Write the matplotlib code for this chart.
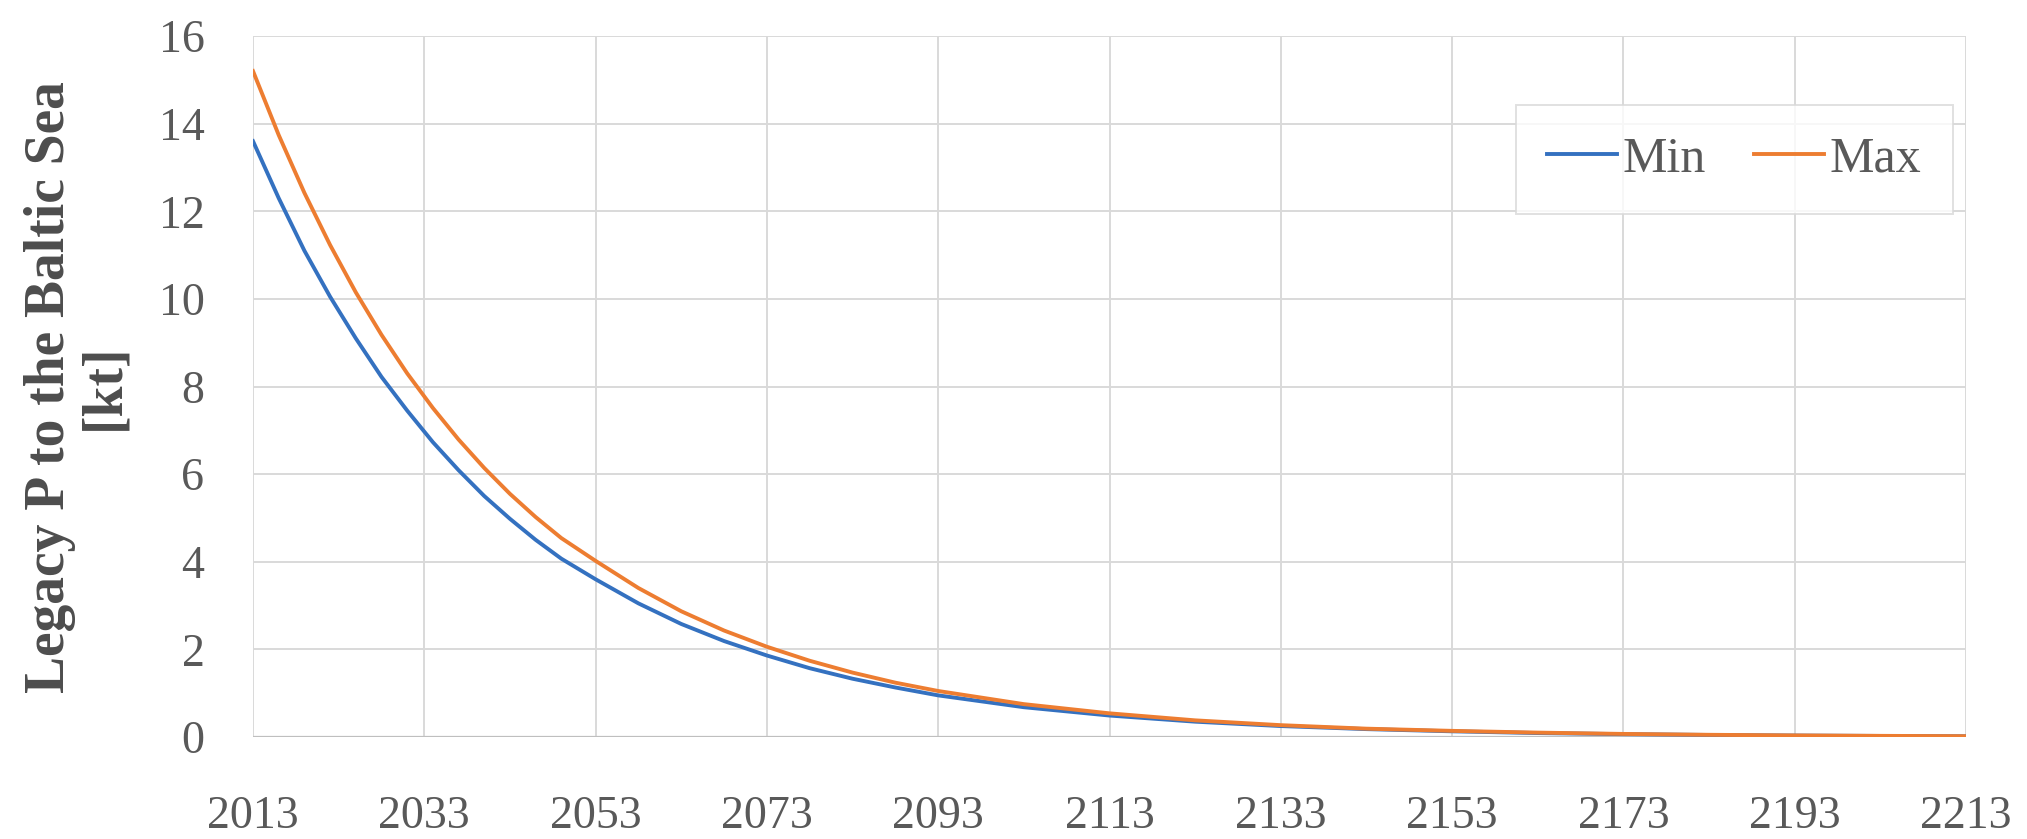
import matplotlib.pyplot as plt
import numpy as np

# years and legacy P (kt)
years = [2013, 2016, 2019, 2022, 2025, 2028, 2031, 2034, 2037, 2040, 2043, 2046,
         2049, 2053, 2058, 2063, 2068, 2073, 2078, 2083, 2088, 2093, 2103, 2113,
         2123, 2133, 2143, 2153, 2163, 2173, 2183, 2193, 2203, 2213]
p_min = [13.6, 12.3, 11.1, 10.05, 9.1, 8.22, 7.45, 6.73, 6.09, 5.5, 4.98, 4.5,
         4.07, 3.6, 3.05, 2.58, 2.19, 1.86, 1.57, 1.33, 1.13, 0.95, 0.68, 0.49,
         0.35, 0.25, 0.18, 0.13, 0.09, 0.065, 0.046, 0.033, 0.024, 0.017]
p_max = [15.2, 13.74, 12.42, 11.23, 10.15, 9.18, 8.3, 7.51, 6.79, 6.14, 5.55, 5.02,
         4.54, 4.02, 3.4, 2.87, 2.43, 2.06, 1.74, 1.47, 1.24, 1.05, 0.75, 0.54,
         0.38, 0.27, 0.19, 0.14, 0.10, 0.07, 0.05, 0.036, 0.026, 0.018]
xticks = list(range(2013, 2214, 20))
yticks = list(range(0, 17, 2))

plt.rcParams['font.family'] = ['Liberation Serif', 'DejaVu Serif']

W, H = 2027, 839
fig = plt.figure(figsize=(W / 100, H / 100), dpi=100)
ax = fig.add_axes([253 / W, 1 - 737 / H, (1966 - 253) / W, (737 - 36) / H])

ax.plot(years, p_min, color='#3471c0', lw=2.8, label='Min')
ax.plot(years, p_max, color='#ed7d31', lw=2.8, label='Max')

ax.set_xlim(2013, 2213)
ax.set_ylim(0, 16)
ax.set_xticks(xticks)
ax.set_yticks(yticks)
ax.grid(True, color='#d9d9d9', lw=1.4)
ax.set_axisbelow(True)
for s in ax.spines.values():
    s.set_visible(False)
ax.axhline(0, color='#bfbfbf', lw=1.6, zorder=1)
ax.tick_params(length=0, labelsize=33, labelcolor='#595959')
ax.tick_params(axis='y', pad=35)
ax.tick_params(axis='x', pad=42)

fig.text(77 / W, 1 - 387 / H, 'Legacy P to the Baltic Sea\n[kt]', rotation=90,
         ha='center', va='center', multialignment='center', fontsize=40,
         fontweight='bold', color='#4d4d4d', linespacing=1.05)

leg = ax.legend(loc='upper left', bbox_to_anchor=(1516 / W, 1 - 105 / H),
                bbox_transform=fig.transFigure, ncol=2, fontsize=36, frameon=True,
                fancybox=False, handlelength=1.4, handletextpad=0.12,
                columnspacing=0.95, borderpad=0.62, borderaxespad=0)
leg.get_frame().set_edgecolor('#d9d9d9')
leg.get_frame().set_linewidth(1.4)
for t in leg.get_texts():
    t.set_color('#595959')

fig.savefig('out.png', dpi=100)
